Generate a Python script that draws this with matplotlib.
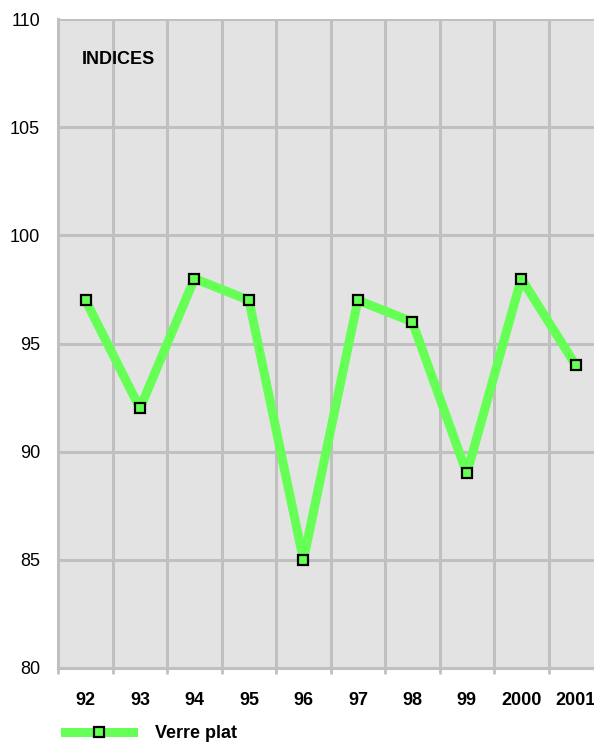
import matplotlib
matplotlib.use("Agg")
import matplotlib.pyplot as plt
from matplotlib.lines import Line2D

years = ["92", "93", "94", "95", "96", "97", "98", "99", "2000", "2001"]
values = [97, 92, 98, 97, 85, 97, 96, 89, 98, 94]
y_ticks = [80, 85, 90, 95, 100, 105, 110]
series_name = "Verre plat"
title = "INDICES"

plt.rcParams['font.family'] = ['Liberation Sans', 'DejaVu Sans']

W, H = 594, 743
fig = plt.figure(figsize=(W / 100, H / 100), dpi=100)
left, right, top, bottom = 58.3, 603.0, 19.0, 668.0
ax = fig.add_axes([left / W, 1 - bottom / H, (right - left) / W, (bottom - top) / H])

ax.set_facecolor('#E3E3E3')
x = list(range(len(years)))
ax.plot(x, values, color='#66FF55', lw=6.5, solid_joinstyle='bevel',
        marker='s', ms=7, mfc='#66FF55', mec='black', mew=1.6, zorder=3)

ax.set_xlim(-0.5, len(years) - 0.5)
ax.set_ylim(80, 110)
ax.set_yticks(y_ticks)
ax.set_yticklabels([str(v) for v in y_ticks], fontsize=13)
ax.set_xticks(x)
ax.set_xticklabels(years, fontsize=13, fontweight='bold')
ax.set_xticks([i + 0.5 for i in range(-1, len(years))], minor=True)
ax.tick_params(axis='x', which='major', length=0, pad=17)
ax.tick_params(axis='x', which='minor', length=4, width=2, color='#C0C0C0')
ax.tick_params(axis='y', length=0, pad=13)

ax.grid(False)
for yv in y_ticks:
    ax.axhline(yv, color='#C0C0C0', lw=2.2, zorder=1)
ax.grid(True, axis='x', which='minor', color='#C0C0C0', lw=2.2, zorder=1)
ax.set_axisbelow(True)
for s in ax.spines.values():
    s.set_color('#C0C0C0')
    s.set_linewidth(2.2)
ax.spines['top'].set_visible(False)
ax.spines['right'].set_visible(False)

ax.text(82 / W, 1 - 60 / H, title, transform=fig.transFigure, fontsize=13,
        fontweight='bold', va='center', ha='left')

handle = Line2D([], [], color='#66FF55', lw=6.5, marker='s', ms=7,
                mfc='#66FF55', mec='black', mew=1.6)
leg = fig.legend([handle], [series_name], loc='center left',
                 bbox_to_anchor=(60 / W, 1 - 734 / H), frameon=False,
                 handlelength=3.75, handletextpad=1.2, numpoints=1,
                 prop={'size': 13, 'weight': 'bold'}, borderaxespad=0,
                 borderpad=0.3)

fig.savefig("out.png", dpi=100)
